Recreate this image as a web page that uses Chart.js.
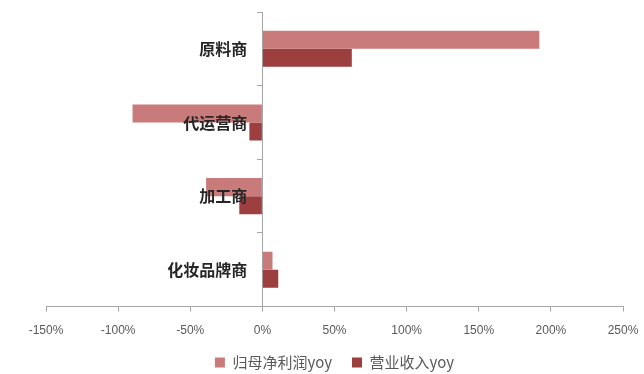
<!DOCTYPE html>
<html>
<head>
<meta charset="utf-8">
<script src="https://cdn.jsdelivr.net/npm/chart.js@4/dist/chart.umd.min.js"></script>
<style>
  html, body { margin: 0; padding: 0; background: #fff; }
  #wrap { width: 644px; height: 374px; }
</style>
</head>
<body>
<div id="wrap"><canvas id="c"></canvas></div>
<script>
const categories = ['原料商', '代运营商', '加工商', '化妆品牌商'];
const seriesNames = ['归母净利润yoy', '营业收入yoy'];
const profitYoy = [192, -90, -39, 7];
const revenueYoy = [62, -9, -16, 11];
const xRange = [-150, 250];
const xStep = 50;

const axisGray = '#a6a6a6';

// category names sit just left of the zero line, on top of the bars
const zeroLineLabels = {
    id: 'zeroLineLabels',
    afterDatasetsDraw(chart) {
        const { ctx, scales: { x, y } } = chart;
        const x0 = x.getPixelForValue(0);
        ctx.save();
        ctx.font = 'bold 16px "Noto Sans CJK SC"';
        ctx.fillStyle = '#262626';
        ctx.textAlign = 'right';
        ctx.textBaseline = 'middle';
        chart.data.labels.forEach((name, i) => {
            ctx.fillText(name, x0 - 15, y.getPixelForValue(i));
        });
        ctx.restore();
    }
};

new Chart(document.getElementById('c').getContext('2d'), {
    type: 'bar',
    data: {
        labels: categories,
        datasets: [
            {
                label: seriesNames[0],
                data: profitYoy,
                backgroundColor: '#c97a7a'
            },
            {
                label: seriesNames[1],
                data: revenueYoy,
                backgroundColor: '#9e3f3f'
            }
        ]
    },
    options: {
        indexAxis: 'y',
        responsive: true,
        maintainAspectRatio: false,
        animation: false,
        categoryPercentage: 0.49,
        barPercentage: 1.0,
        layout: {
            padding: { top: 12, left: 46, right: 21, bottom: -6 }
        },
        scales: {
            x: {
                min: xRange[0],
                max: xRange[1],
                grid: {
                    drawOnChartArea: false,
                    drawTicks: true,
                    tickLength: 5,
                    color: axisGray
                },
                border: { color: axisGray, width: 1 },
                ticks: {
                    stepSize: xStep,
                    padding: 12,
                    color: '#595959',
                    font: { family: 'Liberation Sans', size: 12 },
                    callback: (v) => v + '%'
                },
                afterFit: (s) => {
                    s.height -= 15;
                    s.paddingLeft = 0;
                    s.paddingRight = 0;
                }
            },
            y: {
                position: { x: 0 },
                grid: {
                    offset: true,
                    drawOnChartArea: false,
                    drawTicks: true,
                    tickLength: 5,
                    color: axisGray
                },
                border: { color: axisGray, width: 1 },
                ticks: { display: false },
                afterFit: (s) => { s.width = 0; }
            }
        },
        plugins: {
            legend: {
                position: 'bottom',
                labels: {
                    boxWidth: 10,
                    boxHeight: 10,
                    padding: 20,
                    color: '#595959',
                    font: { family: 'Noto Sans CJK SC', size: 15 }
                }
            },
            tooltip: { enabled: false }
        }
    },
    plugins: [zeroLineLabels]
});
</script>
</body>
</html>
